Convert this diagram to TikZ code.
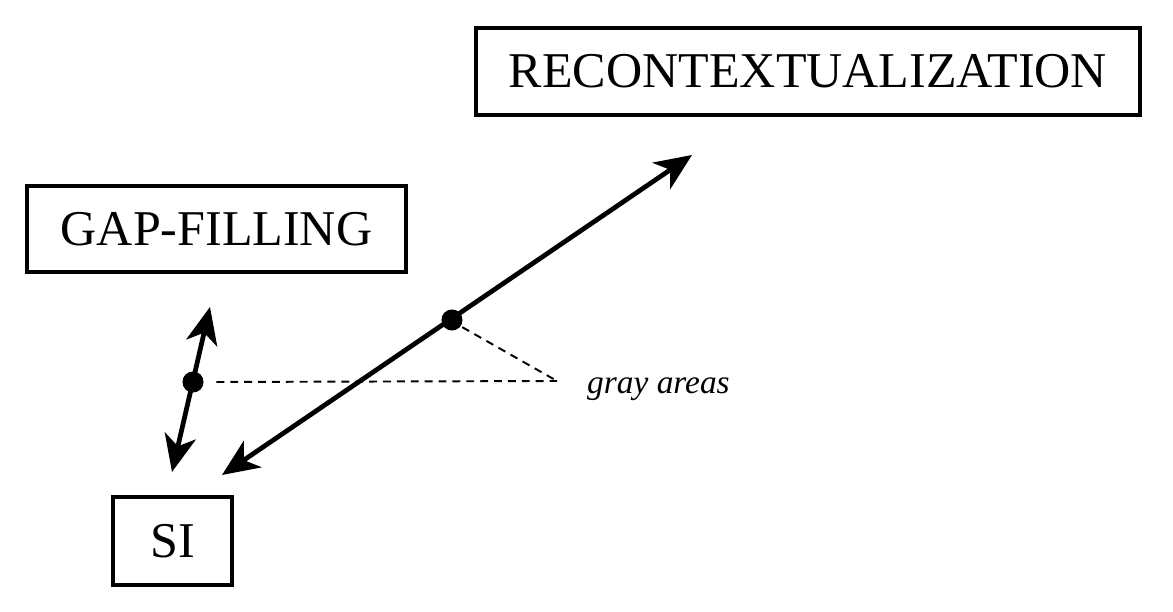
\documentclass[tikz,border=0pt]{standalone}
\usepackage{fontspec}
\setmainfont{Liberation Serif}
\usetikzlibrary{arrows.meta}

\tikzset{
  conceptbox/.style={draw=black, line width=2.2pt, fill=white, font=\fontsize{28.5}{30}\selectfont, inner sep=0pt},
  twoway/.style={line width=2.7pt, {Stealth[length=21pt, width=18pt, inset=6pt]}-{Stealth[length=21pt, width=18pt, inset=6pt]}},
  junction/.style={circle, fill=black, inner sep=0pt, minimum size=12pt},
  grayline/.style={line width=1.1pt, dash pattern=on 4.5pt off 3.4pt}
}

\begin{document}
\begin{tikzpicture}
  \useasboundingbox (0,0) rectangle (23.46,12.24);

  % boxes
  \node[conceptbox, minimum width=13.28cm, minimum height=1.74cm] (recontext) at (16.16,10.81) {RECONTEXTUALIZATION};
  \node[conceptbox, minimum width=7.58cm, minimum height=1.72cm] (gapfill) at (4.33,7.66) {GAP-FILLING};
  \node[conceptbox, minimum width=2.38cm, minimum height=1.76cm] (si) at (3.45,1.42) {SI};

  % arrow ends
  \coordinate (longlow) at (4.44,2.74);
  \coordinate (longhigh) at (13.84,9.14);
  \coordinate (shortlow) at (3.44,2.80);
  \coordinate (shorthigh) at (4.20,6.10);
  \coordinate (graytip) at (11.14,4.62);

  \draw[twoway] (longlow) -- (longhigh);
  \draw[twoway] (shortlow) -- (shorthigh);

  % gray areas
  \node[junction] (dotlong) at (9.04,5.84) {};
  \node[junction] (dotshort) at (3.86,4.60) {};
  \draw[grayline] (dotshort.east) ++(0.25,0) -- (graytip);
  \draw[grayline] (dotlong) ++(-35:0.25) -- (graytip);
  \node[anchor=west, font=\fontsize{19}{21}\selectfont\itshape] (grayareas) at (11.62,4.46) {gray areas};
\end{tikzpicture}
\end{document}
